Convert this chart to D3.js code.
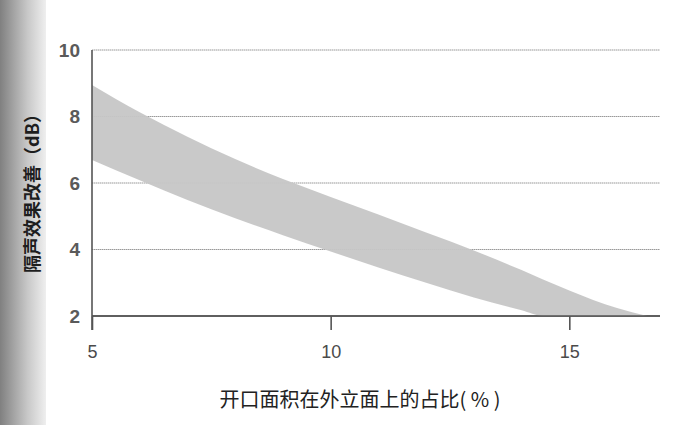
<!DOCTYPE html>
<html>
<head>
<meta charset="utf-8">
<script src="https://cdn.jsdelivr.net/npm/d3@7"></script>
<style>
  body { margin: 0; background: #fff; }
  svg { display: block; }
</style>
</head>
<body>
<div id="chart"></div>
<script>
// opening ratio (%) vs. improvement (dB), upper and lower edge of the band
const ratio = [5, 6, 7, 8, 9, 10, 11, 12, 13, 14, 14.45, 15, 16, 16.63];
const upperDb = [8.95, 8.13, 7.39, 6.72, 6.12, 5.58, 5.05, 4.51, 3.97, 3.38, 3.10, 2.77, 2.24, 2.0];
const lowerDb = [6.69, 6.08, 5.49, 4.94, 4.43, 3.94, 3.46, 3.00, 2.56, 2.17, 2.0, 2.0, 2.0, 2.0];
const xTicks = [5, 10, 15];
const yTicks = [2, 4, 6, 8, 10];

const w = 700;
const h = 425;
const margin = { top: 50, right: 40, bottom: 109, left: 92 };

const svg = d3.select("#chart")
    .append("svg")
    .attr("width", w)
    .attr("height", h);

// scanned page shading on the left edge
const defs = svg.append("defs");
const grad = defs.append("linearGradient").attr("id", "edge");
grad.append("stop").attr("offset", "0%").attr("stop-color", "#808080");
grad.append("stop").attr("offset", "60%").attr("stop-color", "#c8c8c8");
grad.append("stop").attr("offset", "100%").attr("stop-color", "#efefef");
svg.append("rect")
    .attr("x", 0).attr("y", 0)
    .attr("width", 46).attr("height", h)
    .attr("fill", "url(#edge)");

const x = d3.scaleLinear()
    .domain([5, 16.9])
    .range([margin.left, w - margin.right]);

const y = d3.scaleLinear()
    .domain([2, 10])
    .range([h - margin.bottom, margin.top]);

// gridlines
svg.append("g")
    .selectAll("line")
    .data(yTicks)
    .enter()
    .append("line")
    .attr("x1", x(5))
    .attr("x2", x(16.9))
    .attr("y1", d => y(d))
    .attr("y2", d => y(d))
    .attr("stroke", d => d === 2 ? "#555" : "#999")
    .attr("stroke-width", d => d === 2 ? 1.6 : 1)
    .attr("stroke-dasharray", d => d === 2 ? null : "1.5 0.5");

// the band
const rows = ratio.map((r, i) => ({ r: r, hi: upperDb[i], lo: lowerDb[i] }));
const area = d3.area()
    .x(d => x(d.r))
    .y0(d => y(d.lo))
    .y1(d => y(d.hi))
    .curve(d3.curveMonotoneX);

svg.append("path")
    .datum(rows)
    .attr("d", area)
    .attr("fill", "#c6c6c6")
    .attr("opacity", 0.95);

// redraw the baseline over the band
svg.append("line")
    .attr("x1", x(5)).attr("x2", x(16.9))
    .attr("y1", y(2)).attr("y2", y(2))
    .attr("stroke", "#555")
    .attr("stroke-width", 1.6);

// x axis
const xAxis = svg.append("g")
    .attr("transform", `translate(0, ${y(2)})`)
    .call(d3.axisBottom(x).tickValues(xTicks).tickSize(14).tickFormat(d3.format("d")));
xAxis.select(".domain").remove();
xAxis.selectAll("line").attr("stroke", "#555").attr("stroke-width", 1.6);
xAxis.selectAll("text")
    .attr("y", 36)
    .attr("dy", "0.35em")
    .style("font-family", "'Liberation Sans', Arial, sans-serif")
    .style("font-size", "18px")
    .style("fill", "#4a4a4a");

// y axis
const yAxis = svg.append("g")
    .attr("transform", `translate(${x(5)}, 0)`)
    .call(d3.axisLeft(y).tickValues(yTicks).tickSize(0).tickPadding(12));
yAxis.select(".domain").remove();
yAxis.selectAll("text")
    .style("font-family", "'Liberation Sans', Arial, sans-serif")
    .style("font-size", "19px")
    .style("font-weight", "bold")
    .style("fill", "#5a5a5a");

svg.append("line")
    .attr("x1", x(5)).attr("x2", x(5))
    .attr("y1", y(10)).attr("y2", y(2) + 14)
    .attr("stroke", "#555")
    .attr("stroke-width", 1.6);

// titles
svg.append("text")
    .attr("transform", `translate(33, 189) rotate(-90)`)
    .attr("text-anchor", "middle")
    .attr("dy", "0.35em")
    .style("font-family", "'Noto Sans CJK SC', sans-serif")
    .style("font-size", "18px")
    .style("font-weight", "bold")
    .style("fill", "#1e1e1e")
    .text("隔声效果改善（dB）");

svg.append("text")
    .attr("x", 360)
    .attr("y", 400)
    .attr("text-anchor", "middle")
    .attr("dy", "0.35em")
    .style("font-family", "'Noto Sans CJK SC', sans-serif")
    .style("font-size", "20px")
    .style("fill", "#222")
    .text("开口面积在外立面上的占比( % )");
</script>
</body>
</html>
